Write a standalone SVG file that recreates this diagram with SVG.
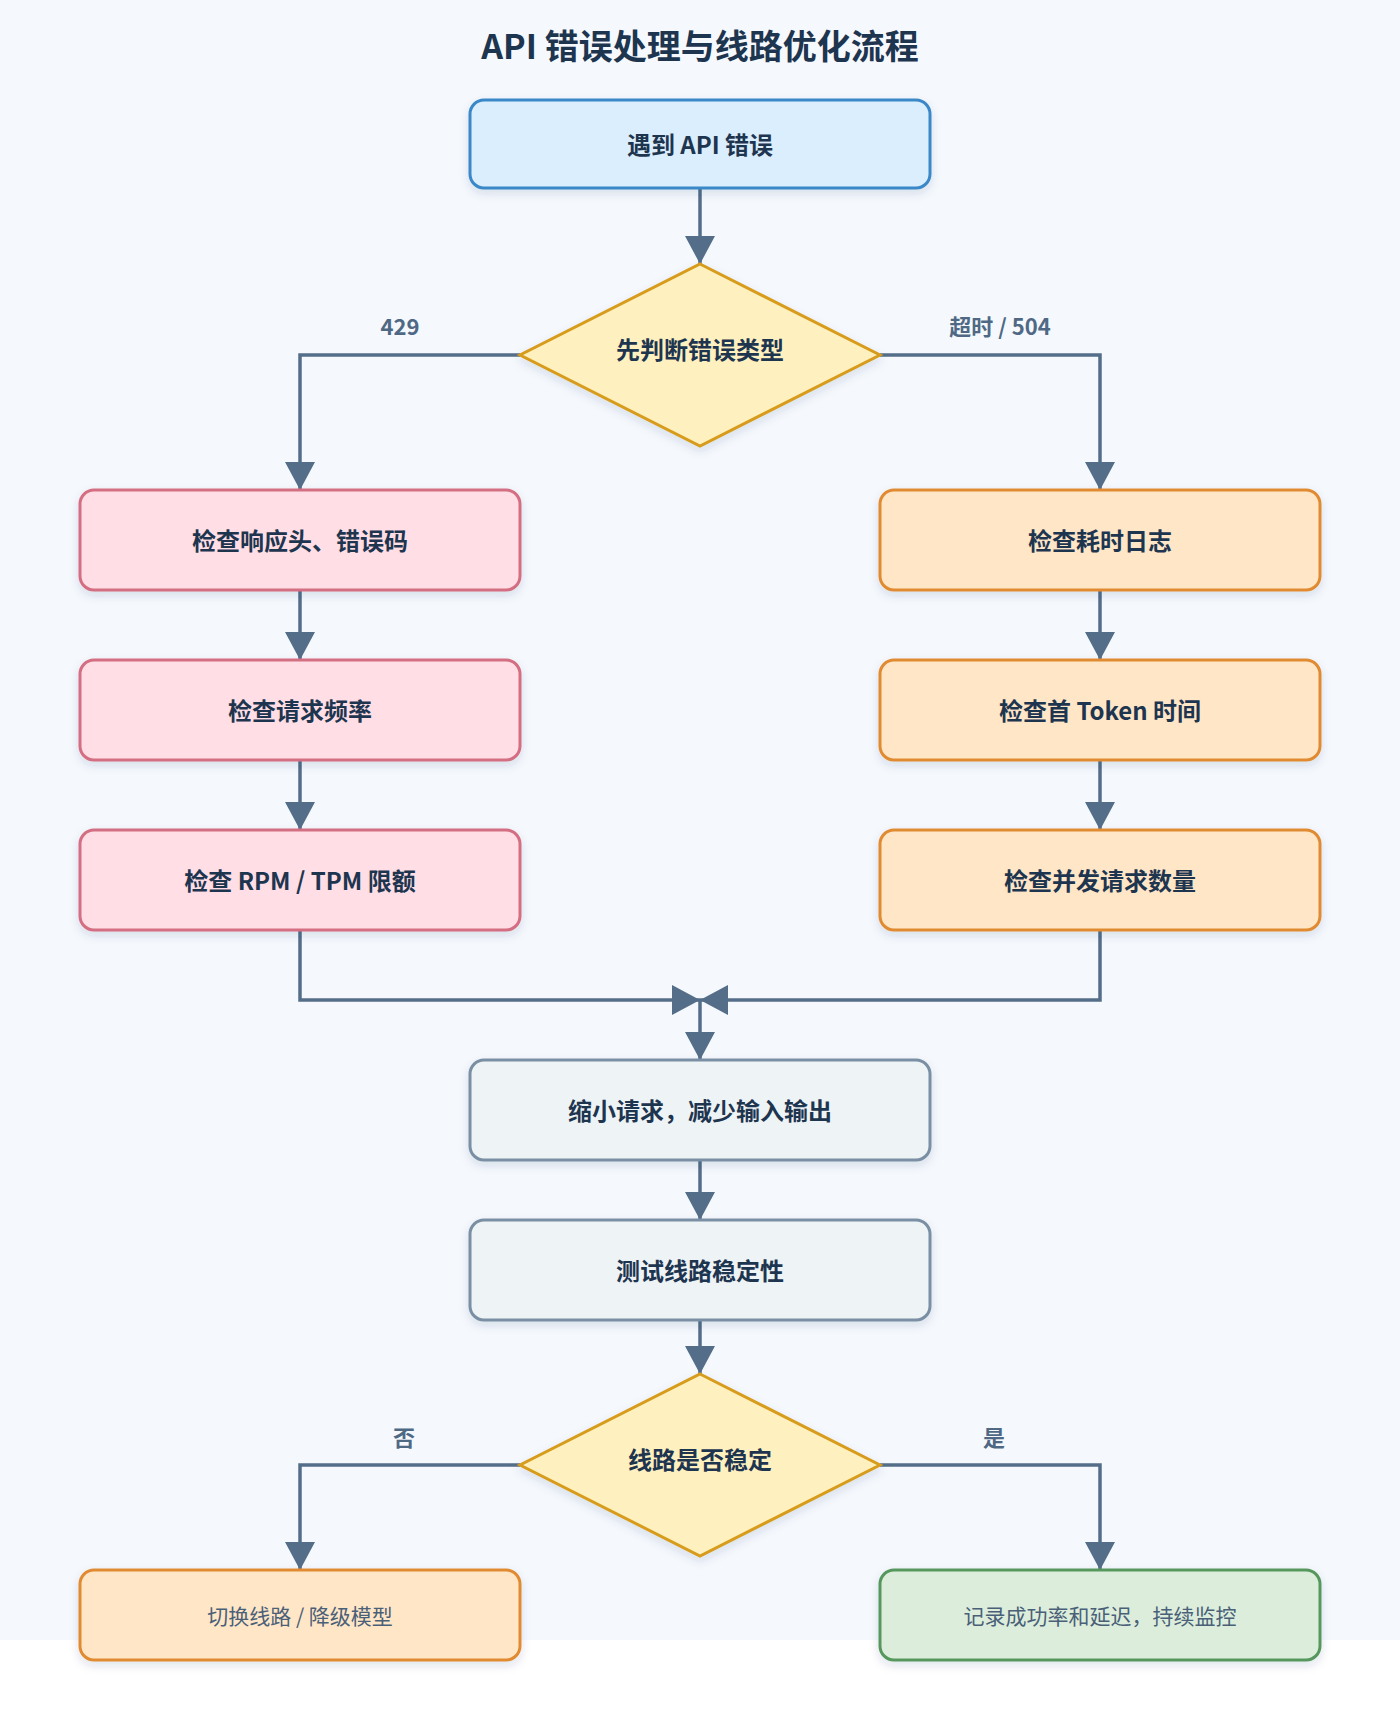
<svg xmlns="http://www.w3.org/2000/svg" width="1400" height="1710" viewBox="0 0 1400 1710">
  <defs>
    <filter id="shadow" x="-10%" y="-20%" width="120%" height="150%">
      <feDropShadow dx="0" dy="4" stdDeviation="5" flood-color="#1e3a5f" flood-opacity="0.13"/>
    </filter>
    <marker id="arrow" markerUnits="userSpaceOnUse" markerWidth="30" markerHeight="30" viewBox="0 0 30 30" refX="28" refY="15" orient="auto">
      <path d="M0,0 L28,15 L0,30 Z" fill="#546e89"/>
    </marker>
    <style>
      .node rect, .node polygon { stroke-width: 3; filter: url(#shadow); }
      .start rect { fill: #dbeefd; stroke: #3a88c9; }
      .decision polygon { fill: #fff1bf; stroke: #d89c1c; }
      .pink rect { fill: #ffdfe5; stroke: #d46e82; }
      .orange rect { fill: #ffe6c7; stroke: #e08b33; }
      .gray rect { fill: #eef3f6; stroke: #7a8fa3; }
      .green rect { fill: #dceedb; stroke: #57975d; }
      .t { font-family: "Noto Sans CJK SC", "Noto Sans", sans-serif; font-size: 24px; font-weight: 700; fill: #1e3550; text-anchor: middle; dominant-baseline: central; }
      .tl { font-family: "Noto Sans CJK SC", "Noto Sans", sans-serif; font-size: 21px; font-weight: 400; fill: #4a5f78; text-anchor: middle; dominant-baseline: central; }
      .title { font-family: "Noto Sans CJK SC", "Noto Sans", sans-serif; font-size: 34px; font-weight: 700; fill: #1e3550; text-anchor: middle; dominant-baseline: central; }
      .lbl { font-family: "Noto Sans CJK SC", "Noto Sans", sans-serif; font-size: 22px; font-weight: 700; fill: #4f6985; text-anchor: middle; }
      .conn path { fill: none; stroke: #546e89; stroke-width: 3.5; }
    </style>
  </defs>

  <rect x="0" y="0" width="1400" height="1710" fill="#ffffff"/>
  <rect x="0" y="0" width="1400" height="1640" fill="#f5f9fd"/>

  <text class="title" x="700" y="44">API 错误处理与线路优化流程</text>

  <g id="connectors" class="conn">
    <path d="M700,188 L700,264" marker-end="url(#arrow)"/>
    <path d="M520,355 L300,355 L300,490" marker-end="url(#arrow)"/>
    <path d="M880,355 L1100,355 L1100,490" marker-end="url(#arrow)"/>
    <path d="M300,590 L300,660" marker-end="url(#arrow)"/>
    <path d="M300,760 L300,830" marker-end="url(#arrow)"/>
    <path d="M1100,590 L1100,660" marker-end="url(#arrow)"/>
    <path d="M1100,760 L1100,830" marker-end="url(#arrow)"/>
    <path d="M300,930 L300,1000 L700,1000" marker-end="url(#arrow)"/>
    <path d="M1100,930 L1100,1000 L700,1000" marker-end="url(#arrow)"/>
    <path d="M700,1000 L700,1060" marker-end="url(#arrow)"/>
    <path d="M700,1160 L700,1220" marker-end="url(#arrow)"/>
    <path d="M700,1320 L700,1374" marker-end="url(#arrow)"/>
    <path d="M520,1465 L300,1465 L300,1570" marker-end="url(#arrow)"/>
    <path d="M880,1465 L1100,1465 L1100,1570" marker-end="url(#arrow)"/>
    <text class="lbl" x="400" y="335">429</text>
    <text class="lbl" x="1000" y="335">超时 / 504</text>
    <text class="lbl" x="404" y="1446">否</text>
    <text class="lbl" x="994" y="1446">是</text>
  </g>

  <g id="start" class="node start">
    <rect x="470" y="100" width="460" height="88" rx="14"/>
    <text class="t" x="700" y="143">遇到 API 错误</text>
  </g>
  <g id="decide-type" class="node decision">
    <polygon points="700,264 880,355 700,446 520,355"/>
    <text class="t" x="700" y="348">先判断错误类型</text>
  </g>

  <g id="check-headers" class="node pink">
    <rect x="80" y="490" width="440" height="100" rx="14"/>
    <text class="t" x="300" y="539">检查响应头、错误码</text>
  </g>
  <g id="check-rate" class="node pink">
    <rect x="80" y="660" width="440" height="100" rx="14"/>
    <text class="t" x="300" y="709">检查请求频率</text>
  </g>
  <g id="check-quota" class="node pink">
    <rect x="80" y="830" width="440" height="100" rx="14"/>
    <text class="t" x="300" y="879">检查 RPM / TPM 限额</text>
  </g>

  <g id="check-latency-log" class="node orange">
    <rect x="880" y="490" width="440" height="100" rx="14"/>
    <text class="t" x="1100" y="539">检查耗时日志</text>
  </g>
  <g id="check-first-token" class="node orange">
    <rect x="880" y="660" width="440" height="100" rx="14"/>
    <text class="t" x="1100" y="709">检查首 Token 时间</text>
  </g>
  <g id="check-concurrency" class="node orange">
    <rect x="880" y="830" width="440" height="100" rx="14"/>
    <text class="t" x="1100" y="879">检查并发请求数量</text>
  </g>

  <g id="shrink-request" class="node gray">
    <rect x="470" y="1060" width="460" height="100" rx="14"/>
    <text class="t" x="700" y="1109">缩小请求，减少输入输出</text>
  </g>
  <g id="test-route" class="node gray">
    <rect x="470" y="1220" width="460" height="100" rx="14"/>
    <text class="t" x="700" y="1269">测试线路稳定性</text>
  </g>

  <g id="decide-stable" class="node decision">
    <polygon points="700,1374 880,1465 700,1556 520,1465"/>
    <text class="t" x="700" y="1458">线路是否稳定</text>
  </g>

  <g id="switch-route" class="node orange">
    <rect x="80" y="1570" width="440" height="90" rx="14"/>
    <text class="tl" x="300" y="1615">切换线路 / 降级模型</text>
  </g>
  <g id="monitor" class="node green">
    <rect x="880" y="1570" width="440" height="90" rx="14"/>
    <text class="tl" x="1100" y="1615">记录成功率和延迟，持续监控</text>
  </g>
</svg>
